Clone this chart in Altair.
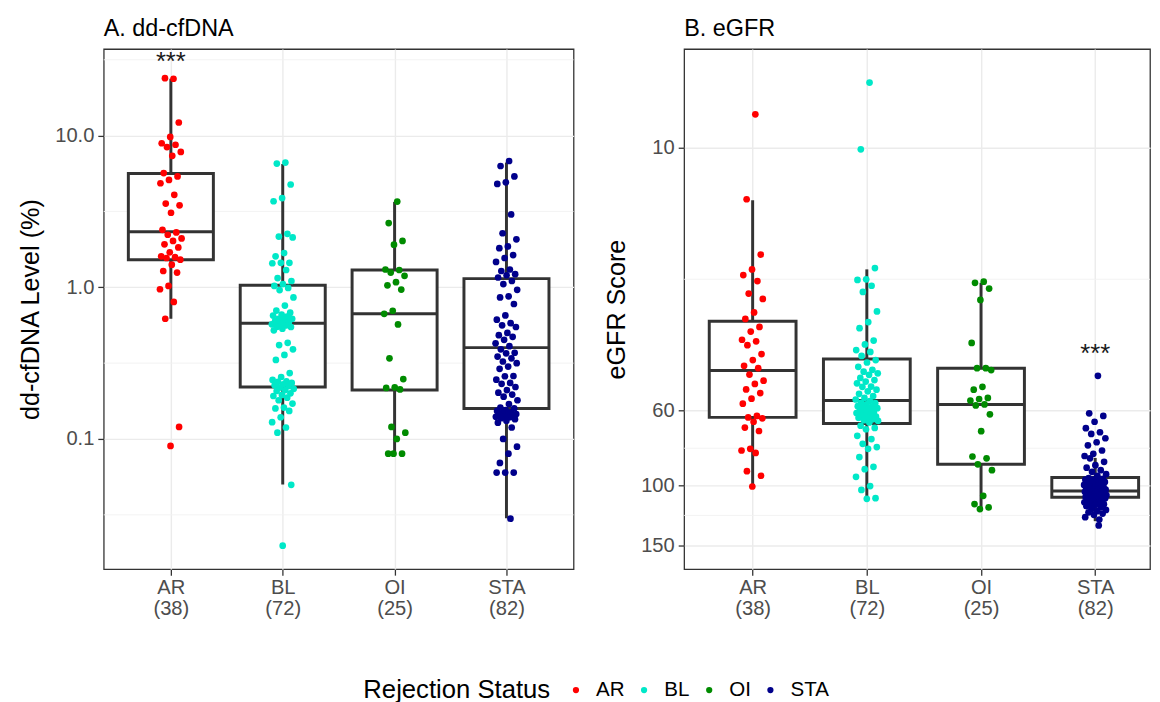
import json
import altair as alt
import pandas as pd

# ---------------- data ----------------
categories = ["AR", "BL", "OI", "STA"]
counts = [38, 72, 25, 82]
point_colors = ["#FF0000", "#00E8C8", "#008B00", "#00008B"]

# dd-cfDNA level (%) per sample
dd_AR = [23.7, 23.9, 12.2, 9.8, 8.9, 8.7, 8.4, 7.8, 7.35, 5.66, 5.38, 5.1, 4.85, 4.07,
         3.56, 3.47, 3.1, 2.39, 2.3, 2.22, 2.1, 2.02, 1.92, 1.83, 1.7, 1.6, 1.58, 1.56,
         1.52, 1.41, 1.28, 1.25, 1.02, 0.97, 0.80, 0.62, 0.12, 0.09]
dd_BL = [6.64, 6.54, 4.76, 3.87, 3.69, 2.25, 2.16, 2.13, 1.68, 1.6,
         1.45, 1.45, 1.44, 1.3, 1.15, 1.10, 1.05, 1.02, 0.99, 0.958,
         0.857, 0.757, 0.702, 0.68, 0.66, 0.651, 0.64, 0.62, 0.62, 0.61,
         0.598, 0.59, 0.575, 0.57, 0.56, 0.55, 0.547, 0.533, 0.52, 0.43,
         0.416, 0.39, 0.358, 0.332, 0.272, 0.256, 0.245, 0.24, 0.238, 0.234,
         0.229, 0.226, 0.223, 0.218, 0.214, 0.21, 0.207, 0.20, 0.195, 0.192,
         0.187, 0.18, 0.171, 0.161, 0.159, 0.153, 0.139, 0.129, 0.119, 0.11,
         0.0498, 0.0198]
dd_OI = [3.67, 2.65, 2.02, 1.91, 1.31, 1.30, 1.25, 1.19, 1.08, 1.03, 0.966, 0.70, 0.668,
         0.569, 0.34, 0.248, 0.219, 0.217, 0.212, 0.12, 0.11, 0.10, 0.080, 0.080, 0.080]
dd_STA = [6.8, 6.3, 5.38, 4.92, 4.8, 3.02, 2.27, 2.07, 1.86, 1.81,
          1.63, 1.56, 1.47, 1.31, 1.28, 1.22, 1.2, 1.16, 1.1, 1.05,
          0.962, 0.871, 0.857, 0.776, 0.652, 0.611, 0.58, 0.561, 0.547, 0.5,
          0.483, 0.471, 0.45, 0.427, 0.409, 0.39, 0.37, 0.367, 0.349, 0.34,
          0.324, 0.316, 0.30, 0.29, 0.26, 0.259, 0.246, 0.234, 0.231, 0.22,
          0.21, 0.202, 0.196, 0.19, 0.18, 0.17, 0.161, 0.159, 0.155, 0.153,
          0.15, 0.148, 0.146, 0.145, 0.143, 0.142, 0.141, 0.14, 0.139, 0.137,
          0.135, 0.132, 0.128, 0.119, 0.10, 0.089, 0.08, 0.0695, 0.06, 0.06,
          0.06, 0.0298]

# eGFR score per sample
eg_AR = [7.96, 14.2, 20.7, 22.9, 23.8, 24.8, 27, 28, 30.7, 32.1, 33.9, 35, 37, 37.4, 38.4,
         40.8, 42.5, 44.2, 44.9, 46.9, 48.9, 50, 51.9, 53.2, 55.3, 57.2, 62.2, 62.8, 63.2,
         64.7, 67.3, 68.9, 77.8, 78.7, 80, 90.6, 93.5, 100.6]
eg_BL = [6.41, 10.1, 22.7, 24.5, 24.6, 25.6, 26.7, 30.5, 32.8, 34.2,
         37.2, 38.2, 39.7, 40.2, 41.3, 42.5, 43.2, 44.5, 45.4, 46,
         46.5, 47, 48, 48.7, 49.2, 49.8, 50.9, 51, 52, 52.6,
         53.5, 54.3, 55, 55.6, 56.2, 56.9, 57, 57.5, 58.2, 58.5,
         58.8, 59, 59.5, 60.1, 60.5, 60.8, 61, 61.5, 62.2, 62.5,
         62.9, 63, 63.6, 64, 64.3, 65, 66.5, 67.5, 68.1, 71.2,
         72.8, 75.2, 76.9, 77.8, 82.3, 88, 89.4, 94.2, 100.3, 103,
         108.9, 109.4]
eg_OI = [24.9, 25.1, 26.1, 28.2, 37.8, 44.9, 44.9, 45.5, 51, 52, 55, 55.4, 56, 57.5, 57.9,
         61.5, 69, 82, 83, 86.5, 90, 107.2, 113.4, 116, 117.3]
eg_STA = [47.3, 61.1, 62.2, 64.7, 67.6, 69.5, 70.3, 72.4, 74.4, 76, 78.7, 80.5, 81.7, 131.2,
          83, 85, 87, 88.5, 90, 91, 92.5, 93.5,
          95, 95.5, 95.8, 96, 96.5, 97, 97.5, 98, 98.2, 98.5, 99, 99.5, 100, 100.5, 101,
          101.2, 101.5, 102, 102.5, 102.8, 103, 103.3, 103.7, 104,
          104.3, 104.6, 105, 105.1, 105.3, 105.6, 106, 106.3, 106.6, 106.8, 107, 107.3,
          107.6, 108, 108.2, 108.5,
          109, 109.5, 110, 110.5, 111, 112, 112.5, 113, 113.5, 114, 115, 116, 117, 118,
          119, 120, 121, 122, 124, 126]

# box-plot summaries
dd_lo = [0.62, 0.050, 0.080, 0.030]
dd_q1 = [1.52, 0.22, 0.21, 0.159]
dd_med = [2.32, 0.58, 0.668, 0.40]
dd_q3 = [5.63, 1.03, 1.30, 1.14]
dd_hi = [23.7, 6.5, 3.65, 6.64]

eg_lo = [14.3, 22.9, 25.1, 82.8]
eg_q1 = [32.6, 42.2, 44.9, 94.6]
eg_med = [45.6, 56.0, 57.5, 103.7]
eg_q3 = [62.8, 65.5, 86.5, 108.2]
eg_hi = [100.0, 109.4, 116.4, 127.4]

# axes
dd_ticks = [0.1, 1, 10]
dd_minor = [0.0316, 0.316, 3.16, 31.6]
eg_ticks = [10, 60, 100, 150]
eg_minor = [24.5, 77.5, 122.5]

# significance marks
dd_sig = ("AR", 30.6)
eg_sig = ("STA", 40.8)

# ---------------- chart ----------------
FONT = "Liberation Sans"
BOX = "#333333"
pos_expr = f"indexof({json.dumps(categories)}, datum.group) + 1"
xlabel_expr = (f"[{json.dumps(categories)}[datum.value - 1], "
               f"'(' + {json.dumps(counts)}[datum.value - 1] + ')']")
colscale = alt.Scale(domain=categories, range=point_colors)

legend = alt.Legend(orient="none", legendX=263, legendY=639, direction="horizontal",
                    title="Rejection Status", titleOrient="left", titleFontSize=26,
                    titleFontWeight="normal", titleColor="black", titlePadding=15,
                    titleLimit=500, labelLimit=200, gridAlign="none",
                    labelFontSize=20.8, labelColor="black", symbolType="circle",
                    symbolSize=40, symbolStrokeWidth=0, symbolOpacity=1,
                    labelOffset=10, columnPadding=9)


def panel(vals, lo, q1, med, q3, hi, ticks, minor, sig, yscale, ylabel_expr,
          ytitle, ptitle, width, xmax):
    pts = pd.DataFrame([{"group": g, "value": v}
                        for g, vs in zip(categories, vals) for v in vs])
    stats = pd.DataFrame({"group": categories, "lo": lo, "q1": q1, "med": med,
                          "q3": q3, "hi": hi})
    grid = pd.DataFrame({"value": minor})
    sigdf = pd.DataFrame({"group": [sig[0]], "value": [sig[1]], "label": ["***"]})

    xscale = alt.Scale(domain=[0.4, xmax], nice=False, zero=False)
    xaxis = alt.Axis(values=[1, 2, 3, 4], labelExpr=xlabel_expr, title=None,
                     grid=True, gridColor="#EBEBEB", gridWidth=1.4, domain=False,
                     tickColor=BOX, tickWidth=1.3, tickSize=6, labelPadding=3,
                     labelFontSize=20.4, labelColor="#4D4D4D", labelLineHeight=21)
    yaxis = alt.Axis(values=ticks, labelExpr=ylabel_expr, title=ytitle,
                     grid=True, gridColor="#EBEBEB", gridWidth=1.4, domain=False,
                     tickColor=BOX, tickWidth=1.3, tickSize=6, labelPadding=4,
                     labelFontSize=20.4, labelColor="#4D4D4D",
                     titleFontSize=25.5, titleFontWeight="normal", titleColor="black",
                     titlePadding=11)

    def X(f):
        return alt.X(f, type="quantitative", scale=xscale, axis=xaxis)

    def Y(f):
        return alt.Y(f, type="quantitative", scale=yscale, axis=yaxis)

    minor_rules = alt.Chart(grid).mark_rule(color="#F2F2F2", strokeWidth=0.9).encode(
        y=Y("value"))
    base = alt.Chart(stats).transform_calculate(
        pos=pos_expr, left="datum.pos - 0.38", right="datum.pos + 0.38")
    whisk = base.mark_rule(color=BOX, strokeWidth=3).encode(
        x=X("pos"), y=Y("lo"), y2="hi:Q")
    box = base.mark_rect(fill="white", stroke=BOX, strokeWidth=3).encode(
        x=X("left"), x2="right:Q", y=Y("q1"), y2="q3:Q")
    medl = base.mark_rule(color=BOX, strokeWidth=3).encode(
        x=X("left"), x2="right:Q", y=Y("med"))
    points = alt.Chart(pts).transform_window(
        rn="row_number()", groupby=["group"]
    ).transform_calculate(
        pos=pos_expr,
        xj="datum.pos + (((datum.rn * 0.6180339887) % 1) - 0.5) * 0.2",
    ).mark_circle(size=46, opacity=1).encode(
        x=X("xj"), y=Y("value"),
        color=alt.Color("group:N", scale=colscale, legend=legend))
    stars = alt.Chart(sigdf).transform_calculate(pos=pos_expr).mark_text(
        fontSize=26, baseline="middle", color="#1A1A1A").encode(
        x=X("pos"), y=Y("value"), text="label:N")

    return alt.layer(minor_rules, whisk, box, medl, points, stars).properties(
        width=width, height=527,
        title=alt.TitleParams(ptitle, anchor="start", frame="group", fontSize=23.7,
                              fontWeight="normal", color="black", offset=9))


chart_a = panel([dd_AR, dd_BL, dd_OI, dd_STA], dd_lo, dd_q1, dd_med, dd_q3, dd_hi,
                dd_ticks, dd_minor, dd_sig,
                alt.Scale(type="log", domain=[0.01384, 37.2], nice=False),
                "format(datum.value, '.1f')", "dd-cfDNA Level (%)", "A. dd-cfDNA",
                476, 4.6)
chart_b = panel([eg_AR, eg_BL, eg_OI, eg_STA], eg_lo, eg_q1, eg_med, eg_q3, eg_hi,
                eg_ticks, eg_minor, eg_sig,
                alt.Scale(type="log", domain=[5.1, 176.8], nice=False, reverse=True),
                "format(datum.value, 'd')", "eGFR Score", "B. eGFR",
                472, 4.48)

chart = alt.hconcat(chart_a, chart_b, spacing=29).resolve_scale(
    color="shared"
).properties(
    padding={"left": 10, "top": 3, "right": 0, "bottom": 0}
).configure(font=FONT).configure_view(stroke=BOX, strokeWidth=1.3)

chart.save("out.html", embed_options={"renderer": "svg", "actions": False})
